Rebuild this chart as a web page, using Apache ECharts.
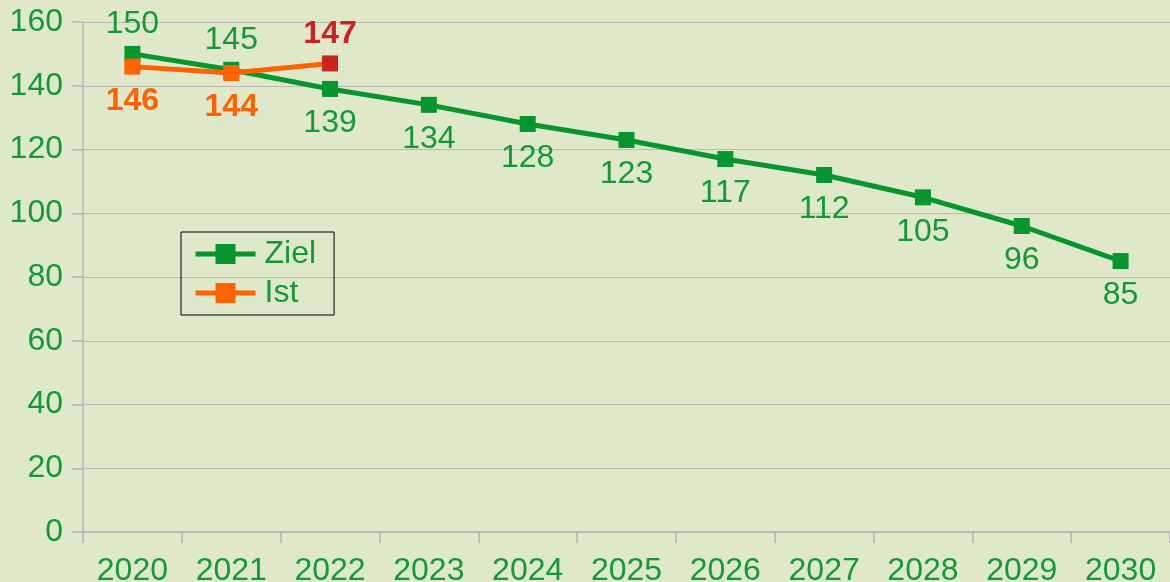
<!DOCTYPE html>
<html><head><meta charset="utf-8">
<script src="https://cdn.jsdelivr.net/npm/echarts@6/dist/echarts.min.js"></script>
<style>html,body{margin:0;padding:0;background:#dfe8c9;}#c{width:1170px;height:582px;}</style>
</head><body><div id="c"></div>
<script>
const categories = ['2020','2021','2022','2023','2024','2025','2026','2027','2028','2029','2030'];
const zielValues = [150,145,139,134,128,123,117,112,105,96,85];
const istValues = [146,144,147];
const yTicks = {min:0, max:160, interval:20};

const GREEN = '#07962e';
const TXT = '#119a35';
const ORANGE = '#ff6200';
const RED = '#cc2222';
const FONT = '"Liberation Sans", Arial, sans-serif';
const FS = 32;

const zielData = zielValues.map((v,i)=>({value:v, label:{position: i<2 ? 'top' : 'bottom'}}));
const istData = istValues.map((v,i)=> i===2
  ? {value:v, itemStyle:{color:RED}, label:{position:'top', color:RED}}
  : {value:v, label:{position:'bottom'}});

const chart = echarts.init(document.getElementById('c'), null, {renderer:'canvas'});
chart.setOption({
  backgroundColor:'#dfe8c9',
  animation:false,
  textStyle:{fontFamily:FONT},
  grid:{left:83, right:0, top:22, bottom:50, containLabel:false, outerBoundsMode:'none'},
  legend:{
    left:181, top:232, orient:'vertical',
    padding:[6,18,6,12],
    borderColor:'#000', borderWidth:1,
    itemWidth:60, itemHeight:25, itemGap:7,
    lineStyle:{width:5},
    textStyle:{fontSize:FS, color:TXT, fontFamily:FONT, padding:[3,0,0,4]},
    data:['Ziel','Ist']
  },
  xAxis:{
    type:'category', data:categories, boundaryGap:true,
    axisLine:{lineStyle:{color:'#b3b3b3', width:1.5}},
    axisTick:{show:true, length:11, lineStyle:{color:'#b3b3b3', width:1.5}},
    axisLabel:{fontSize:FS, color:TXT, margin:23, fontFamily:FONT}
  },
  yAxis:{
    type:'value', min:yTicks.min, max:yTicks.max, interval:yTicks.interval,
    axisLine:{show:true, lineStyle:{color:'#b3b3b3', width:1.5}},
    axisTick:{show:true, length:11, lineStyle:{color:'#b3b3b3', width:1.5}},
    axisLabel:{fontSize:FS, color:TXT, margin:20, fontFamily:FONT, padding:[4,0,0,0]},
    splitLine:{lineStyle:{color:'#b8b8b8', width:1.2}}
  },
  series:[
    {name:'Ziel', type:'line', data:zielData, symbol:'rect', symbolSize:16,
     lineStyle:{color:GREEN, width:5}, itemStyle:{color:GREEN},
     label:{show:true, fontSize:FS, color:TXT, distance:8, offset:[0,2.5], fontFamily:FONT}, z:2},
    {name:'Ist', type:'line', data:istData, symbol:'rect', symbolSize:16,
     lineStyle:{color:ORANGE, width:5}, itemStyle:{color:ORANGE},
     label:{show:true, fontSize:FS, fontWeight:'bold', color:ORANGE, distance:8, offset:[0,2.5], fontFamily:FONT}, z:3}
  ]
});
</script></body></html>
